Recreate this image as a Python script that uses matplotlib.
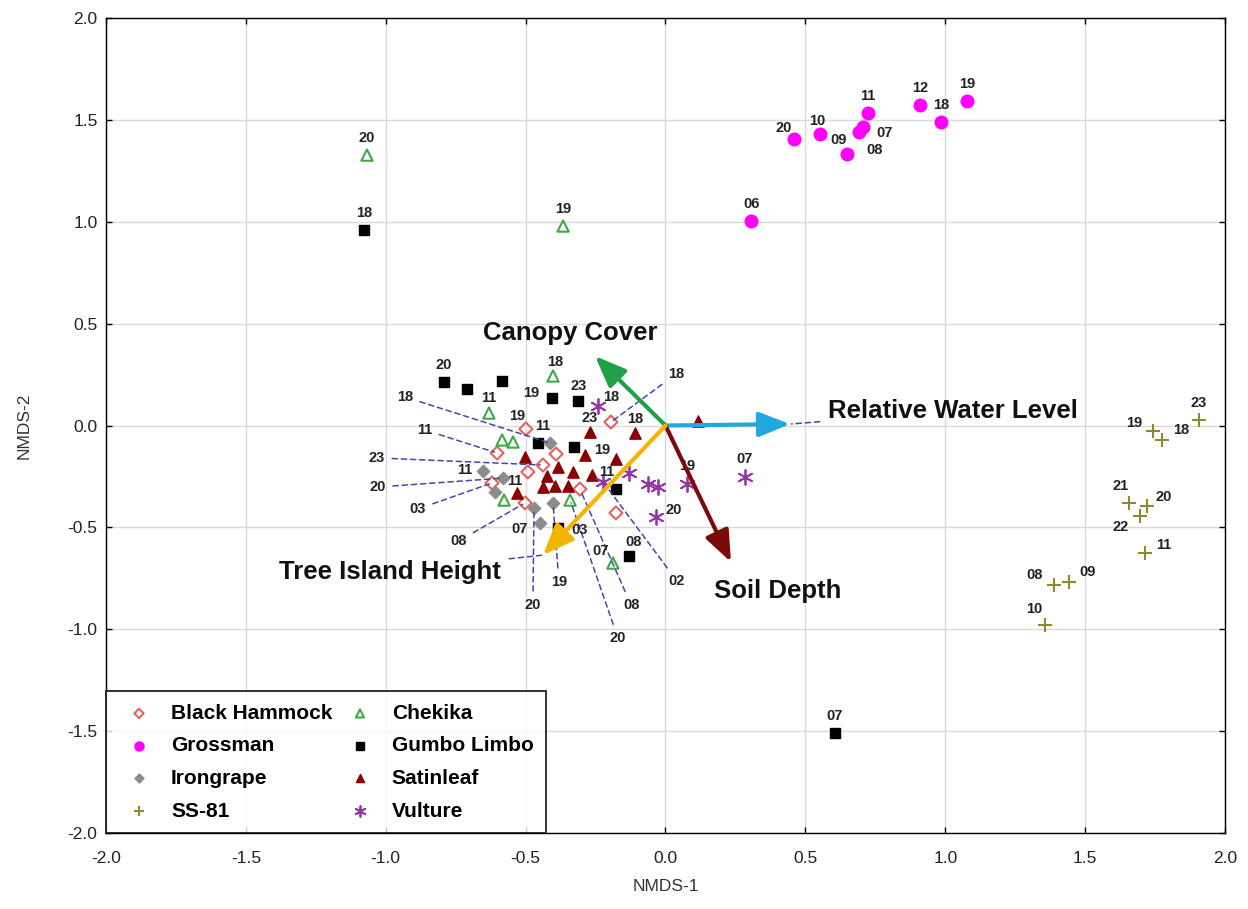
import matplotlib

matplotlib.use("Agg")
import matplotlib.pyplot as plt

plt.rcParams["font.family"] = ["Liberation Sans", "DejaVu Sans"]
plt.rcParams["axes.unicode_minus"] = False

# ---- site scores (NMDS-1, NMDS-2) and year labels ----
BH_X = [-0.499, -0.602, -0.391, -0.438, -0.492, -0.620, -0.306, -0.502, -0.177, -0.195]
BH_Y = [-0.017, -0.135, -0.140, -0.194, -0.228, -0.282, -0.312, -0.380, -0.429, 0.017]
BH_LAB = ["19", "11", "", "23", "", "03", "08", "08", "", "18"]

CK_X = [-1.067, -0.366, -0.402, -0.631, -0.584, -0.545, -0.577, -0.341, -0.188]
CK_Y = [1.327, 0.979, 0.243, 0.061, -0.071, -0.081, -0.366, -0.366, -0.675]
CK_LAB = ["20", "19", "18", "11", "", "", "", "20", "07"]

GR_X = [0.459, 0.552, 0.649, 0.692, 0.706, 0.724, 0.910, 0.985, 1.078, 0.306]
GR_Y = [1.406, 1.431, 1.332, 1.440, 1.465, 1.534, 1.573, 1.490, 1.592, 1.004]
GR_LAB = ["20", "10", "09", "08", "07", "11", "12", "18", "19", "06"]

GL_X = [-1.077, 0.606, -0.792, -0.710, -0.584, -0.406, -0.313, -0.456, -0.327, -0.177, -0.384, -0.130]
GL_Y = [0.958, -1.509, 0.213, 0.179, 0.218, 0.135, 0.120, -0.086, -0.105, -0.312, -0.503, -0.640]
GL_LAB = ["18", "07", "20", "", "", "19", "23", "11", "", "11", "03", "08"]

IG_X = [-0.654, -0.581, -0.609, -0.470, -0.449, -0.402, -0.413]
IG_Y = [-0.223, -0.258, -0.326, -0.405, -0.479, -0.380, -0.086]
IG_LAB = ["11", "20", "", "20", "07", "19", "18"]

SL_X = [-0.502, -0.384, -0.331, -0.263, -0.288, -0.177, -0.270, -0.109, -0.424, -0.438, -0.395, -0.349, -0.531, 0.116]
SL_Y = [-0.155, -0.204, -0.228, -0.243, -0.145, -0.164, -0.032, -0.037, -0.248, -0.302, -0.297, -0.297, -0.331, 0.022]
SL_LAB = ["", "", "", "", "19", "", "23", "18", "", "", "", "", "11", ""]

SS_X = [1.907, 1.743, 1.775, 1.657, 1.721, 1.696, 1.714, 1.389, 1.442, 1.357]
SS_Y = [0.027, -0.027, -0.071, -0.381, -0.395, -0.444, -0.626, -0.783, -0.768, -0.978]
SS_LAB = ["23", "19", "18", "21", "20", "22", "11", "08", "09", "10"]

VU_X = [-0.241, -0.130, -0.063, -0.027, -0.034, 0.077, 0.284, -0.223]
VU_Y = [0.096, -0.233, -0.287, -0.302, -0.449, -0.287, -0.253, -0.277]
VU_LAB = ["18", "", "", "", "20", "19", "07", "02"]

# ---- environmental vectors ----
VEC_NAMES = ["Canopy Cover", "Relative Water Level", "Soil Depth", "Tree Island Height"]
VEC_X = [-0.252, 0.445, 0.234, -0.438]
VEC_Y = [0.341, 0.007, -0.670, -0.636]

DATA = {
    "Black Hammock": (BH_X, BH_Y, BH_LAB),
    "Chekika": (CK_X, CK_Y, CK_LAB),
    "Grossman": (GR_X, GR_Y, GR_LAB),
    "Gumbo Limbo": (GL_X, GL_Y, GL_LAB),
    "Irongrape": (IG_X, IG_Y, IG_LAB),
    "Satinleaf": (SL_X, SL_Y, SL_LAB),
    "SS-81": (SS_X, SS_Y, SS_LAB),
    "Vulture": (VU_X, VU_Y, VU_LAB),
}

STYLE = {
    "Black Hammock": dict(marker="D", s=44, facecolors="none", edgecolors="#E4625F", linewidths=1.5),
    "Grossman": dict(marker="o", s=82, color="#FF00FF"),
    "Irongrape": dict(marker="D", s=40, color="#8C8C8C"),
    "SS-81": dict(marker="+", s=110, color="#8B8A2E", linewidths=1.5),
    "Chekika": dict(marker="^", s=66, facecolors="none", edgecolors="#3DAA45", linewidths=1.5),
    "Gumbo Limbo": dict(marker="s", s=60, color="black"),
    "Satinleaf": dict(marker="^", s=66, color="#8B0000"),
    "Vulture": dict(marker=(6, 2, 0), s=115, color="#9933AA", linewidths=1.3),
}
VEC_COLORS = ["#20A048", "#22A8E0", "#7B0A0A", "#F5B400"]

# label placement: offsets in pixels (dx right, dy down); default is above the point
OFFSETS = {
    "Black Hammock": {0: (-9, -13)},
    "Chekika": {2: (2, -14), 3: (0, -15), 8: (-12, -12)},
    "Grossman": {0: (-10, -11), 1: (-3, -13), 2: (-9, -14), 3: (15, 18), 4: (22, 6)},
    "Gumbo Limbo": {5: (-21, -5), 6: (1, -15), 7: (5, -17), 9: (-9, -17), 10: (21, 2), 11: (4, -14)},
    "Irongrape": {0: (-18, -1), 4: (-20, 6)},
    "Satinleaf": {4: (17, -5), 6: (0, -14), 7: (0, -14), 12: (-2, -12)},
    "SS-81": {1: (-19, -8), 2: (19, -10), 3: (-9, -17), 4: (17, -9), 5: (-19, 11),
              6: (19, -8), 7: (-20, -10), 8: (19, -10), 9: (-11, -16)},
    "Vulture": {0: (13, -9), 4: (18, -7), 5: (0, -18), 6: (0, -18)},
}
# labels pulled away from the crowded centre with dashed leaders (text position in data units)
LEADERS = {
    ("Black Hammock", 1): (-0.860, -0.022),
    ("Black Hammock", 3): (-1.031, -0.159),
    ("Black Hammock", 5): (-0.885, -0.410),
    ("Black Hammock", 6): (-0.123, -0.881),
    ("Black Hammock", 7): (-0.739, -0.567),
    ("Black Hammock", 9): (0.038, 0.253),
    ("Irongrape", 1): (-1.028, -0.302),
    ("Irongrape", 3): (-0.474, -0.881),
    ("Irongrape", 5): (-0.381, -0.768),
    ("Irongrape", 6): (-0.931, 0.140),
    ("Chekika", 7): (-0.170, -1.043),
    ("Vulture", 7): (0.041, -0.763),
}
VEC_LABEL_POS = [(-0.341, 0.454), (0.581, 0.071), (0.402, -0.812), (-0.985, -0.719)]
VEC_LABEL_HA = ["center", "left", "center", "center"]
LEADER_COLOR = "#4646A8"

fig = plt.figure(figsize=(12.48, 9.09), dpi=100)
ax = fig.add_axes([0.0849, 0.0836, 0.8967, 0.8966])
ax.set_xlim(-2.0, 2.0)
ax.set_ylim(-2.0, 2.0)
ax.set_xticks([-2.0, -1.5, -1.0, -0.5, 0.0, 0.5, 1.0, 1.5, 2.0])
ax.set_yticks([-2.0, -1.5, -1.0, -0.5, 0.0, 0.5, 1.0, 1.5, 2.0])
ax.xaxis.set_major_formatter(matplotlib.ticker.FormatStrFormatter("%.1f"))
ax.yaxis.set_major_formatter(matplotlib.ticker.FormatStrFormatter("%.1f"))
ax.grid(True, color="#DADADA", lw=1.0, zorder=0)
ax.set_axisbelow(True)
ax.tick_params(direction="in", length=4, width=1, labelsize=12.5, labelcolor="#222222",
               top=True, right=True, pad=6)
ax.tick_params(axis="x", pad=13)
for sp in ax.spines.values():
    sp.set_linewidth(1.0)
    sp.set_color("black")

narrow = ["Liberation Sans Narrow", "Liberation Sans", "DejaVu Sans"]
ax.set_xlabel("NMDS-1", fontsize=12.5, color="#333333", family=narrow, labelpad=9)
ax.set_ylabel("NMDS-2", fontsize=12.5, color="#333333", family=narrow, labelpad=26)

handles = {}
for site, (xs, ys, labs) in DATA.items():
    handles[site] = ax.scatter(xs, ys, label=site, zorder=3, **STYLE[site])

txt_kw = dict(fontsize=10.5, fontweight="bold", color="#222222", ha="center", va="center", zorder=4)
for site, (xs, ys, labs) in DATA.items():
    offs = OFFSETS.get(site, {})
    for i, (x, y, lab) in enumerate(zip(xs, ys, labs)):
        if not lab:
            continue
        if (site, i) in LEADERS:
            ax.annotate(lab, xy=(x, y), xytext=LEADERS[(site, i)], textcoords="data",
                        arrowprops=dict(arrowstyle="-", linestyle=(0, (3.5, 2.5)), color=LEADER_COLOR,
                                        lw=1.1, shrinkA=3, shrinkB=2), **txt_kw)
        else:
            dx, dy = offs.get(i, (0, -17))
            ax.annotate(lab, xy=(x, y), xytext=(dx, -dy), textcoords="offset pixels", **txt_kw)

# environmental vectors
for name, vx, vy, col, pos, ha in zip(VEC_NAMES, VEC_X, VEC_Y, VEC_COLORS, VEC_LABEL_POS, VEC_LABEL_HA):
    ax.annotate("", xy=(vx, vy), xytext=(0, 0),
                arrowprops=dict(arrowstyle="-|>,head_length=0.95,head_width=0.38", color=col, lw=3,
                                shrinkA=0, shrinkB=0, mutation_scale=20), zorder=6)
    if name in ("Relative Water Level", "Tree Island Height"):
        ax.annotate(name, xy=(vx, vy), xytext=pos, textcoords="data", ha=ha, va="center",
                    fontsize=18.5, fontweight="bold", color="#111111", zorder=7,
                    arrowprops=dict(arrowstyle="-", linestyle=(0, (3.5, 2.5)), color=LEADER_COLOR,
                                    lw=1.1, shrinkA=4, shrinkB=1))
    else:
        ax.text(pos[0], pos[1], name, ha=ha, va="center", fontsize=18.5, fontweight="bold",
                color="#111111", zorder=7)

order = ["Black Hammock", "Grossman", "Irongrape", "SS-81",
         "Chekika", "Gumbo Limbo", "Satinleaf", "Vulture"]
leg = ax.legend([handles[s] for s in order], order, loc="lower left", ncol=2,
                borderaxespad=0, frameon=True, fancybox=False, markerscale=0.72,
                prop=dict(size=15, weight="bold"), labelspacing=0.65, columnspacing=0.34,
                handletextpad=0.55, borderpad=0.6, handlelength=1.97)
leg.get_frame().set_edgecolor("black")
leg.get_frame().set_linewidth(1.4)
leg.set_zorder(8)

fig.savefig("out.png", dpi=100)
